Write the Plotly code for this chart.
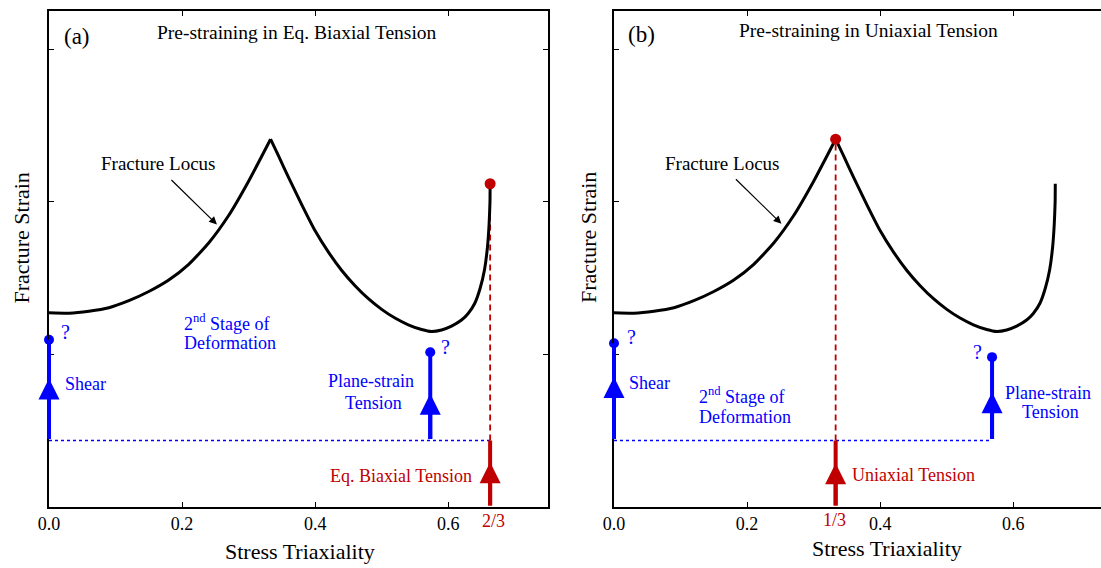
import plotly.graph_objects as go

# ---------------- data ----------------
# fracture locus: stress triaxiality vs fracture strain (same locus in both panels)
triax = [0.000, 0.030, 0.060, 0.090, 0.120, 0.150, 0.180, 0.210, 0.240, 0.270, 0.300, 0.333,
         0.345, 0.360, 0.380, 0.400, 0.420, 0.440, 0.460, 0.480, 0.500, 0.520, 0.540, 0.560,
         0.575, 0.590, 0.605, 0.620, 0.630, 0.640, 0.648, 0.6545, 0.659, 0.6615, 0.6628, 0.663]
frac_strain = [1.273, 1.270, 1.283, 1.306, 1.352, 1.412, 1.487, 1.590, 1.730, 1.910, 2.135, 2.410,
               2.300, 2.160, 1.980, 1.810, 1.670, 1.550, 1.450, 1.365, 1.295, 1.238, 1.194, 1.163,
               1.150, 1.160, 1.185, 1.225, 1.268, 1.335, 1.433, 1.553, 1.702, 1.856, 2.000, 2.118]
peak_index = 11

# loading paths after pre-straining (level of the end of pre-strain)
stage2_level = 0.435
# panel (a): pre-strain in eq. biaxial tension
a_paths_x = [0.0, 0.573]          # shear, plane-strain tension
a_paths_end = [1.096, 1.014]      # end points marked with "?"
a_paths_tip = [0.842, 0.742]      # arrow tips
a_pre_x, a_pre_tip, a_pre_end = 0.663, 0.294, 2.118
# panel (b): pre-strain in uniaxial tension
b_paths_x = [0.0, 0.568]
b_paths_end = [1.073, 0.982]
b_paths_tip = [0.851, 0.752]
b_pre_x, b_pre_tip, b_pre_end = 0.333, 0.287, 2.41

x_ticks = [0.0, 0.2, 0.4, 0.6]
x_tick_text = ["0.0", "0.2", "0.4", "0.6"]
y_ticks = [1, 2, 3]

# ---------------- styling ----------------
FONT = "Liberation Serif"
BLUE = "#0000ff"
RED = "#c00000"
W, H = 1101, 568
ML, MR, MT, MB = 49, 0, 11, 61
PW, PH = W - ML - MR, H - MT - MB


def px(xp, yp):
    return (xp - ML) / PW, (H - MB - yp) / PH


fig = go.Figure()
annotations = []


def text(xp, yp, s, size, color="black", xanchor="center", angle=0):
    x, y = px(xp, yp)
    annotations.append(dict(x=x, y=y, xref="paper", yref="paper", text=s, showarrow=False,
                            xanchor=xanchor, yanchor="middle", textangle=angle,
                            font=dict(family=FONT, size=size, color=color)))


def vline(xr, yr, xv, y0, y1, color, head):
    # vertical path drawn as an (unclipped) annotation arrow in data coordinates
    annotations.append(dict(x=xv, y=y1, xref=xr, yref=yr, ax=xv, ay=y0, axref=xr, ayref=yr,
                            text="", showarrow=True, arrowhead=2 if head else 0,
                            arrowsize=1.05, arrowwidth=4, arrowcolor=color))


panels = [
    dict(xa="x", ya="y", paths_x=a_paths_x, paths_end=a_paths_end, paths_tip=a_paths_tip,
         pre_x=a_pre_x, pre_tip=a_pre_tip, pre_end=a_pre_end, dotted_to=a_pre_x),
    dict(xa="x2", ya="y2", paths_x=b_paths_x, paths_end=b_paths_end, paths_tip=b_paths_tip,
         pre_x=b_pre_x, pre_tip=b_pre_tip, pre_end=b_pre_end, dotted_to=b_paths_x[1]),
]

for p in panels:
    xa, ya = p["xa"], p["ya"]
    # dotted blue line at end of pre-strain
    fig.add_trace(go.Scatter(x=[0.0, p["dotted_to"]], y=[stage2_level, stage2_level], mode="lines",
                             line=dict(color=BLUE, width=1.5, dash="dot"), xaxis=xa, yaxis=ya,
                             showlegend=False, hoverinfo="skip"))
    # red dashed line from pre-strain to fracture
    fig.add_trace(go.Scatter(x=[p["pre_x"], p["pre_x"]], y=[stage2_level, p["pre_end"]], mode="lines",
                             line=dict(color=RED, width=1.8, dash="6px,4px"), xaxis=xa, yaxis=ya,
                             showlegend=False, hoverinfo="skip"))
    # fracture locus (two branches either side of the cusp)
    for seg in (slice(0, peak_index + 1), slice(peak_index, None)):
        fig.add_trace(go.Scatter(x=triax[seg], y=frac_strain[seg], mode="lines",
                                 line=dict(color="black", width=3, shape="spline", smoothing=0.5),
                                 xaxis=xa, yaxis=ya, showlegend=False, hoverinfo="skip"))
    # red pre-strain path
    vline(xa, ya, p["pre_x"], 0, stage2_level, RED, False)
    vline(xa, ya, p["pre_x"], 0, p["pre_tip"], RED, True)
    # blue second-stage paths
    for xv, ye, yt in zip(p["paths_x"], p["paths_end"], p["paths_tip"]):
        vline(xa, ya, xv, stage2_level, ye, BLUE, False)
        vline(xa, ya, xv, stage2_level, yt, BLUE, True)
    fig.add_trace(go.Scatter(x=p["paths_x"], y=p["paths_end"], mode="markers", cliponaxis=False,
                             marker=dict(color=BLUE, size=10), xaxis=xa, yaxis=ya,
                             showlegend=False, hoverinfo="skip"))

# red fracture points
fig.add_trace(go.Scatter(x=[a_pre_x], y=[a_pre_end], mode="markers", cliponaxis=False,
                         marker=dict(color=RED, size=11),
                         xaxis="x", yaxis="y", showlegend=False, hoverinfo="skip"))
fig.add_trace(go.Scatter(x=[b_pre_x], y=[b_pre_end], mode="markers", cliponaxis=False,
                         marker=dict(color=RED, size=11),
                         xaxis="x2", yaxis="y2", showlegend=False, hoverinfo="skip"))

# "Fracture Locus" pointer arrows
for xr, yr, hx, hy in (("x", "y", 0.2524, 1.851), ("x2", "y2", 0.2515, 1.856)):
    annotations.append(dict(x=hx, y=hy, xref=xr, yref=yr, ax=-47, ay=-46, text="",
                            showarrow=True, arrowhead=2, arrowsize=1.3, arrowwidth=1.2,
                            arrowcolor="black"))

# ---------------- texts, panel (a) ----------------
text(76.7, 37, "(a)", 23)
text(297, 32, "Pre-straining in Eq. Biaxial Tension", 19.5)
text(157.5, 163.3, "Fracture Locus", 19)
text(65.4, 331.7, "?", 20, BLUE, "center")
text(445.7, 346.7, "?", 20, BLUE, "center")
text(62.5, 384.3, "Shear", 18, BLUE, "left")
text(182, 322.7, "2<sup>nd</sup> Stage of", 18, BLUE, "left")
text(182, 343.3, "Deformation", 18, BLUE, "left")
text(371.4, 381, "Plane-strain", 18, BLUE)
text(373.7, 403.3, "Tension", 18, BLUE)
text(474, 476, "Eq. Biaxial Tension", 18, RED, "right")
text(493.5, 521, "2/3", 18, RED)
text(299.5, 551, "Stress Triaxiality", 22)
text(20.5, 238, "Fracture Strain", 22, angle=-90)

# ---------------- texts, panel (b) ----------------
text(641, 35, "(b)", 23)
text(868, 30.7, "Pre-straining in Uniaxial Tension", 19.5)
text(722, 163.3, "Fracture Locus", 19)
text(631, 336.7, "?", 20, BLUE)
text(977.3, 351.7, "?", 20, BLUE)
text(627.3, 383, "Shear", 18, BLUE, "left")
text(697, 395, "2<sup>nd</sup> Stage of", 18, BLUE, "left")
text(697, 416.7, "Deformation", 18, BLUE, "left")
text(1047.5, 392.7, "Plane-strain", 18, BLUE)
text(1050, 411.7, "Tension", 18, BLUE)
text(849.7, 475, "Uniaxial Tension", 18, RED, "left")
text(834.7, 520, "1/3", 18, RED)
text(886.6, 548, "Stress Triaxiality", 22)
text(588, 238, "Fracture Strain", 22, angle=-90)

axis_common = dict(showgrid=False, zeroline=False, showline=True, linecolor="black", linewidth=1.6,
                   ticks="inside", ticklen=5, tickwidth=1, tickcolor="black")
xa_common = dict(axis_common, tickvals=x_ticks, ticktext=x_tick_text,
                 tickfont=dict(family=FONT, size=18, color="black"))
ya_common = dict(axis_common, tickvals=y_ticks, showticklabels=False, range=[0, 3.25])

fig.update_layout(
    width=W, height=H,
    margin=dict(l=ML, r=MR, t=MT, b=MB),
    paper_bgcolor="white", plot_bgcolor="white",
    xaxis=dict(xa_common, domain=[0, (548 - ML) / PW], range=[0, 0.75], mirror="ticks", anchor="y"),
    yaxis=dict(ya_common, mirror="ticks", anchor="x"),
    xaxis2=dict(xa_common, domain=[(614 - ML) / PW, 1], range=[0, 0.7317], mirror="ticks", anchor="y2"),
    yaxis2=dict(ya_common, mirror=False, anchor="x2"),
    annotations=annotations,
    showlegend=False,
)

fig.write_html("out.html")
